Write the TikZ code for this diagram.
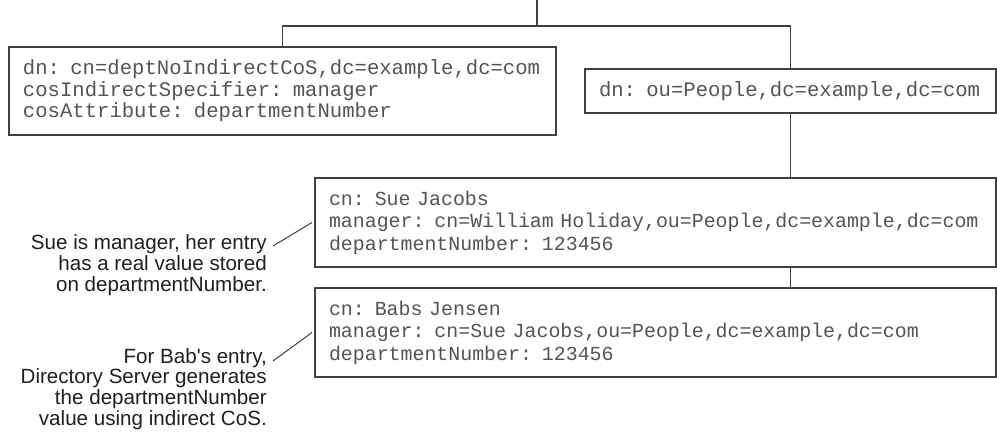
\documentclass[tikz,border=0pt]{standalone}
\usepackage{fontspec}
\setmainfont{Liberation Sans}[Ligatures=TeXOff]
\newfontfamily\monof{Liberation Mono}
\definecolor{ln}{gray}{0.25}
\definecolor{tx}{gray}{0.33}
\definecolor{nt}{gray}{0.12}
\begin{document}
\begin{tikzpicture}[x=1pt,y=-1pt,
  entry/.style={draw=ln, line width=1.4pt, inner xsep=14pt, inner ysep=0pt,
    anchor=north west, align=left, text=tx, outer sep=0pt},
  topf/.style={font=\monof\fontsize{20.6}{21.5}\selectfont},
  botf/.style={font=\monof\fontsize{19.9}{22.5}\selectfont},
  note/.style={font=\fontsize{20.6}{20.8}\selectfont, align=right, anchor=east,
    text=nt, inner sep=0pt},
  conn/.style={draw=ln, line width=1.3pt}]
\useasboundingbox (0,0) rectangle (997,444);

\node[entry, topf, minimum width=547pt, minimum height=88pt, text width=519pt]
  (lb) at (9,47) {dn: cn=deptNoIndirectCoS,dc=example,dc=com\\
  cosIndirectSpecifier: manager\\
  cosAttribute: departmentNumber};

\node[entry, topf, minimum width=411pt, minimum height=44pt, text width=383pt]
  (pb) at (585,69) {dn: ou=People,dc=example,dc=com};

\node[entry, botf, minimum width=681pt, minimum height=89pt, text width=653pt]
  (sue) at (315,178) {cn: Sue Jacobs\\
  manager: cn=William Holiday,ou=People,dc=example,dc=com\\
  departmentNumber: 123456};

\node[entry, botf, minimum width=681pt, minimum height=89pt, text width=653pt]
  (babs) at (315,288) {cn: Babs Jensen\\
  manager: cn=Sue Jacobs,ou=People,dc=example,dc=com\\
  departmentNumber: 123456};

\node[note] (n1) at (267,265) {Sue is manager, her entry\\has a real value stored\\on departmentNumber.};
\node[note] (n2) at (267,389) {For Bab's entry,\\Directory Server generates\\the departmentNumber\\value using indirect CoS.};

\coordinate (top) at (537,0);
\coordinate (j) at (537,26);
\coordinate (a1) at (273,246);
\coordinate (a2) at (273,361);

\draw[conn] (top) -- (j);
\draw[conn] (lb.north) |- (j) -| (pb.north);
\draw[conn] (pb.south) -- (pb.south |- sue.north);
\draw[conn] (sue.south -| pb.south) -- (babs.north -| pb.south);
\draw[conn, line width=1pt] (a1) -- ([xshift=-3pt]sue.west);
\draw[conn, line width=1pt] (a2) -- ([xshift=-3pt]babs.west);
\end{tikzpicture}
\end{document}
